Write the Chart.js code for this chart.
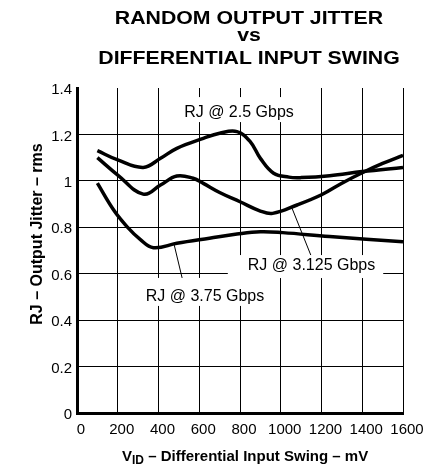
<!DOCTYPE html>
<html>
<head>
<meta charset="utf-8">
<script src="https://cdn.jsdelivr.net/npm/chart.js@4.4.0/dist/chart.umd.min.js"></script>
<style>
  html, body { margin: 0; padding: 0; background: #fff; }
  #wrap { width: 439px; height: 464px; }
</style>
</head>
<body>
<div id="wrap"><canvas id="myChart" width="439" height="464"></canvas></div>
<script>
// input swing (mV) and random jitter (rms) along each curve
const swing25 = [100, 200, 325, 410, 490, 620, 700, 785, 850, 900, 965, 1040, 1100, 1240, 1400, 1600];
const jitter25 = [1.13, 1.09, 1.058, 1.097, 1.14, 1.183, 1.205, 1.212, 1.169, 1.097, 1.033, 1.016, 1.014, 1.022, 1.04, 1.058];

const swing3125 = [100, 200, 325, 410, 490, 570, 620, 700, 800, 900, 960, 1080, 1200, 1300, 1400, 1500, 1600];
const jitter3125 = [1.10, 1.025, 0.943, 0.982, 1.021, 1.011, 0.989, 0.95, 0.91, 0.87, 0.86, 0.896, 0.94, 0.99, 1.035, 1.075, 1.11];

const swing375 = [100, 180, 245, 310, 375, 490, 650, 785, 900, 1010, 1240, 1600];
const jitter375 = [0.99, 0.874, 0.803, 0.748, 0.712, 0.731, 0.753, 0.771, 0.781, 0.777, 0.76, 0.738];

const seriesNames = ['RJ @ 2.5 Gbps', 'RJ @ 3.125 Gbps', 'RJ @ 3.75 Gbps'];
const xTickLabels = ['0', '200', '400', '600', '800', '1000', '1200', '1400', '1600'];
const yTickLabels = ['0', '0.2', '0.4', '0.6', '0.8', '1', '1.2', '1.4'];

function toPoints(xs, ys) {
  return xs.map((x, i) => ({ x: x, y: ys[i] }));
}

const FONT = '"Liberation Sans", Arial, Helvetica, sans-serif';

// callout text boxes, leader lines go from the curve to the box
const callouts = [
  { text: seriesNames[0], x: 795, y: 1.292, pad: [4, 4, 16, 9] },
  { text: seriesNames[1], x: 1151, y: 0.633, pad: [20, 8, 11, 12], lead: [1055, 0.883, 1153, 0.668] },
  { text: seriesNames[2], x: 628, y: 0.50, pad: [7, 5, 19, 9], lead: [476, 0.728, 530, 0.530] }
];

const textPlugin = {
  id: 'textPlugin',
  afterDatasetsDraw(chart) {
    const ctx = chart.ctx;
    const xs = chart.scales.x, ys = chart.scales.y;
    ctx.save();
    // leader lines
    ctx.strokeStyle = '#000';
    ctx.lineWidth = 1;
    callouts.forEach(c => {
      if (!c.lead) return;
      ctx.beginPath();
      ctx.moveTo(xs.getPixelForValue(c.lead[0]), ys.getPixelForValue(c.lead[1]));
      ctx.lineTo(xs.getPixelForValue(c.lead[2]), ys.getPixelForValue(c.lead[3]));
      ctx.stroke();
    });
    ctx.font = '16px ' + FONT;
    ctx.textAlign = 'center';
    ctx.textBaseline = 'middle';
    callouts.forEach(c => {
      const cx = xs.getPixelForValue(c.x), cy = ys.getPixelForValue(c.y);
      const w = ctx.measureText(c.text).width;
      ctx.fillStyle = '#fff';
      ctx.fillRect(cx - w / 2 - c.pad[0], cy - c.pad[2], w + c.pad[0] + c.pad[1], c.pad[2] + c.pad[3]);
      ctx.fillStyle = '#000';
      ctx.fillText(c.text, cx, cy);
    });
    ctx.restore();
  },
  afterDraw(chart) {
    const ctx = chart.ctx;
    ctx.save();
    ctx.fillStyle = '#000';

    // title, slightly wide bold type
    ctx.textAlign = 'center';
    ctx.textBaseline = 'alphabetic';
    ctx.font = 'bold 19px ' + FONT;
    [['RANDOM OUTPUT JITTER', 24], ['vs', 40.5], ['DIFFERENTIAL INPUT SWING', 64]].forEach(l => {
      ctx.save();
      ctx.translate(249, l[1]);
      ctx.scale(1.12, 1);
      ctx.fillText(l[0], 0, 0);
      ctx.restore();
    });

    // y axis title
    ctx.save();
    ctx.translate(42, 234);
    ctx.rotate(-Math.PI / 2);
    ctx.font = 'bold 16px ' + FONT;
    ctx.fillText('RJ \u2013 Output Jitter \u2013 rms', 0, 0);
    ctx.restore();

    // x axis title with subscript
    ctx.textAlign = 'left';
    let x = 122;
    ctx.font = 'bold 15px ' + FONT;
    ctx.fillText('V', x, 461);
    x += ctx.measureText('V').width;
    ctx.font = 'bold 12px ' + FONT;
    ctx.fillText('ID', x, 464);
    x += ctx.measureText('ID').width;
    ctx.font = 'bold 15px ' + FONT;
    ctx.fillText(' \u2013 Differential Input Swing \u2013 mV', x, 461);

    ctx.restore();
  }
};

const ctx = document.getElementById('myChart');
const lineStyle = { borderColor: '#000', borderWidth: 3.5, pointRadius: 0, fill: false, tension: 0.4 };

const myChart = new Chart(ctx, {
  type: 'line',
  data: {
    datasets: [
      Object.assign({ label: seriesNames[0], data: toPoints(swing25, jitter25) }, lineStyle),
      Object.assign({ label: seriesNames[1], data: toPoints(swing3125, jitter3125) }, lineStyle),
      Object.assign({ label: seriesNames[2], data: toPoints(swing375, jitter375) }, lineStyle)
    ]
  },
  options: {
    responsive: false,
    animation: false,
    layout: { padding: { top: 88, right: 36, left: 0, bottom: 0 } },
    plugins: {
      legend: { display: false },
      title: { display: false },
      tooltip: { enabled: false }
    },
    scales: {
      x: {
        type: 'linear',
        min: 0,
        max: 1600,
        afterFit(scale) { scale.height = 51; },
        afterBuildTicks(scale) {
          scale.ticks = xTickLabels.map(v => ({ value: Number(v) }));
        },
        ticks: {
          font: { family: FONT, size: 15 },
          color: '#000',
          padding: 8,
          labelOffset: 4,
          maxRotation: 0,
          autoSkip: false,
          callback: (v, i) => xTickLabels[i]
        },
        grid: { color: '#000', lineWidth: 1, drawTicks: false },
        border: { color: '#000', width: 3 }
      },
      y: {
        min: 0,
        max: 1.4,
        afterFit(scale) { scale.width = 77; },
        afterBuildTicks(scale) {
          scale.ticks = yTickLabels.map(v => ({ value: Number(v) }));
        },
        ticks: {
          font: { family: FONT, size: 15 },
          color: '#000',
          padding: 5,
          labelOffset: 2,
          autoSkip: false,
          callback: (v, i) => yTickLabels[i]
        },
        grid: {
          color: c => (c.tick && c.tick.value >= 1.4 ? 'rgba(0,0,0,0)' : '#000'),
          lineWidth: 1,
          drawTicks: false
        },
        border: { color: '#000', width: 3 }
      }
    }
  },
  plugins: [textPlugin]
});
</script>
</body>
</html>
